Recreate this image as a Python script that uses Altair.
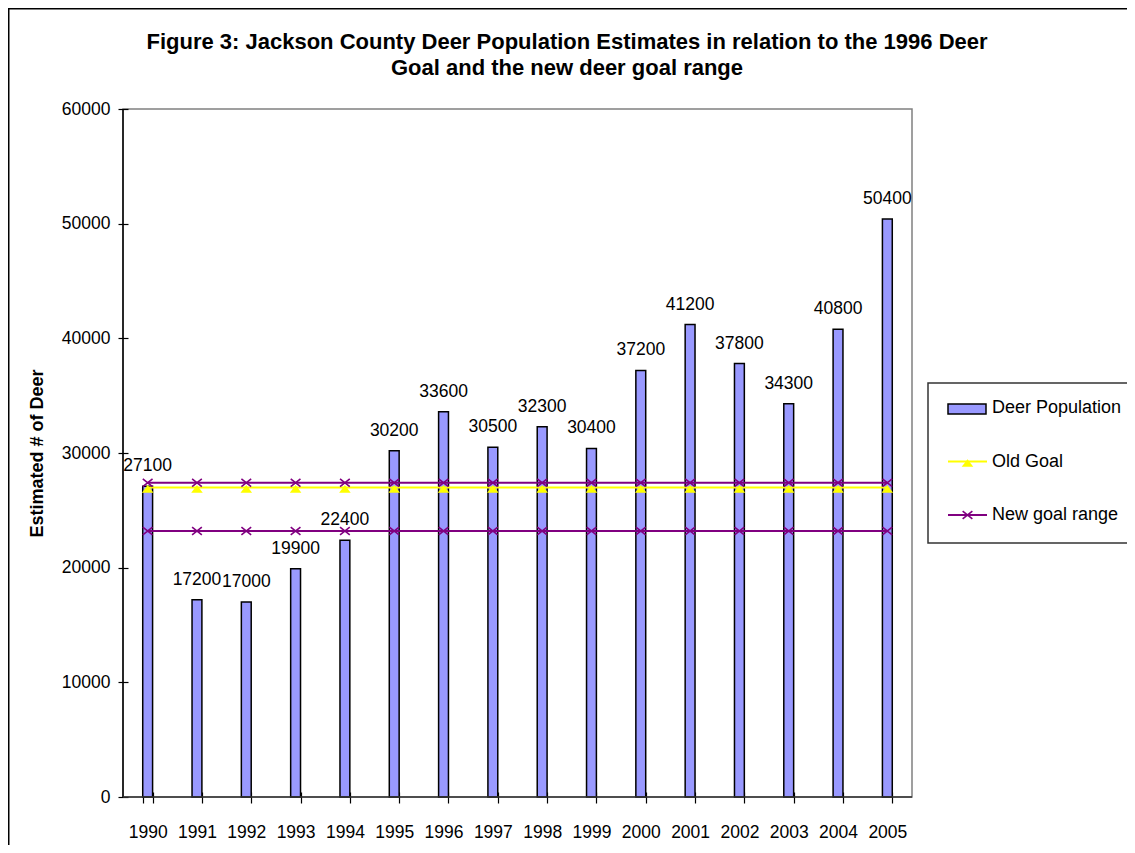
import altair as alt
import pandas as pd

years = ["1990", "1991", "1992", "1993", "1994", "1995", "1996", "1997",
         "1998", "1999", "2000", "2001", "2002", "2003", "2004", "2005"]
population = [27100, 17200, 17000, 19900, 22400, 30200, 33600, 30500,
              32300, 30400, 37200, 41200, 37800, 34300, 40800, 50400]
old_goal = [27000, 27000, 27000, 27000, 27000, 27000, 27000, 27000,
            27000, 27000, 27000, 27000, 27000, 27000, 27000, 27000]
new_goal_high = [27400, 27400, 27400, 27400, 27400, 27400, 27400, 27400,
                 27400, 27400, 27400, 27400, 27400, 27400, 27400, 27400]
new_goal_low = [23200, 23200, 23200, 23200, 23200, 23200, 23200, 23200,
                23200, 23200, 23200, 23200, 23200, 23200, 23200, 23200]
y_ticks = [0, 10000, 20000, 30000, 40000, 50000, 60000]
title_lines = ["Figure 3: Jackson County Deer Population Estimates in relation to the 1996 Deer",
               "Goal and the new deer goal range"]
legend_labels = ["Deer Population", "Old Goal", "New goal range"]
y_title = "Estimated # of Deer"

FONT = "Liberation Sans"
W, H = 789, 688
BAR = "#9999FF"
PURPLE = "#800080"
YELLOW = "#FFFF00"
TRI = "M-1,0.9L1,0.9L0,-0.4Z"
XSHAPE = "M-1,-0.8L1,0.8M-1,0.8L1,-0.8"

pop_df = pd.DataFrame({"year": years, "value": population})
old_df = pd.DataFrame({"year": years, "value": old_goal})
new_df = pd.DataFrame({
    "year": years + years,
    "value": new_goal_high + new_goal_low,
    "band": ["high"] * len(years) + ["low"] * len(years),
})

X = alt.X("year:O", sort=years,
          scale=alt.Scale(paddingInner=0.8, paddingOuter=0.4),
          axis=alt.Axis(title=None, labelAngle=0, offset=-5, tickSize=11,
                        tickBand="extent", domain=False, labelPadding=20,
                        labelFontSize=17.5, labelFont=FONT, labelColor="black",
                        tickColor="black", tickWidth=1.2))
Y = alt.Y("value:Q", scale=alt.Scale(domain=[0, 60000], nice=False),
          axis=alt.Axis(values=y_ticks, format="d", offset=-5, tickSize=10,
                        domain=False, grid=False, labelPadding=8,
                        labelFontSize=17.5, labelFont=FONT, labelColor="black",
                        tickColor="black", tickWidth=1.2,
                        title=y_title, titleFont=FONT, titleFontSize=18,
                        titleFontWeight="bold", titleColor="black",
                        titleX=-90.5, titleY=H / 2, titleAngle=270,
                        titleAlign="center", titleBaseline="middle"))

# outer chart frame
frame = alt.Chart(pd.DataFrame({"k": [0]})).mark_rect(
    fillOpacity=0, stroke="black", strokeWidth=1.5
).encode(x=alt.value(-114.25), x2=alt.value(1200),
         y=alt.value(-100.25), y2=alt.value(1000))

bars = alt.Chart(pop_df).mark_bar(fill=BAR, stroke="black", strokeWidth=1.5).encode(
    x=X, y=Y)

old_line = alt.Chart(old_df).mark_line(color=YELLOW, strokeWidth=2).encode(x=X, y=Y)
old_pts = alt.Chart(old_df).mark_point(shape=TRI, filled=True,
                                       color=YELLOW, size=135, opacity=1).encode(x=X, y=Y)
new_line = alt.Chart(new_df).mark_line(color=PURPLE, strokeWidth=2).encode(
    x=X, y=Y, detail="band:N")
new_pts = alt.Chart(new_df).mark_point(shape=XSHAPE, filled=False,
                                       color=PURPLE, size=95, strokeWidth=1.6,
                                       opacity=1).encode(x=X, y=Y)

labels = alt.Chart(pop_df).mark_text(font=FONT, fontSize=17.5, color="black",
                                     baseline="middle", dy=-20).encode(
    x=X, y=Y, text=alt.Text("value:Q", format="d"))

axis_left = alt.Chart(pd.DataFrame({"k": [0]})).mark_rule(color="black", strokeWidth=1.5).encode(
    x=alt.value(0), y=alt.value(0), y2=alt.value(H))
axis_bottom = alt.Chart(pd.DataFrame({"k": [0]})).mark_rule(color="#333333", strokeWidth=1.5).encode(
    x=alt.value(0), x2=alt.value(W), y=alt.value(H))

title_df = pd.DataFrame({"t": [title_lines[0]]})
title2_df = pd.DataFrame({"t": [title_lines[1]]})
title1 = alt.Chart(title_df).mark_text(font=FONT, fontSize=22, fontWeight="bold",
                                       color="black", align="center", baseline="middle").encode(
    text="t:N", x=alt.value(444), y=alt.value(-67))
title2 = alt.Chart(title2_df).mark_text(font=FONT, fontSize=22, fontWeight="bold",
                                        color="black", align="center", baseline="middle").encode(
    text="t:N", x=alt.value(444), y=alt.value(-41))

# legend
one = pd.DataFrame({"k": [0]})
leg_box = alt.Chart(one).mark_rect(fill="white", stroke="#333333", strokeWidth=1.5).encode(
    x=alt.value(805), x2=alt.value(1100), y=alt.value(274), y2=alt.value(434))
leg_bar = alt.Chart(one).mark_rect(fill=BAR, stroke="black", strokeWidth=1.5).encode(
    x=alt.value(825), x2=alt.value(863), y=alt.value(295), y2=alt.value(305))
leg_old_line = alt.Chart(one).mark_rule(color=YELLOW, strokeWidth=2).encode(
    x=alt.value(825), x2=alt.value(864), y=alt.value(352.5))
leg_old_pt = alt.Chart(one).mark_point(shape=TRI, filled=True, color=YELLOW,
                                       size=135, opacity=1).encode(
    x=alt.value(844.5), y=alt.value(352.5))
leg_new_line = alt.Chart(one).mark_rule(color=PURPLE, strokeWidth=2).encode(
    x=alt.value(825), x2=alt.value(864), y=alt.value(406))
leg_new_pt = alt.Chart(one).mark_point(shape=XSHAPE, filled=False,
                                       color=PURPLE, size=95, strokeWidth=1.6,
                                       opacity=1).encode(
    x=alt.value(844.5), y=alt.value(406))
leg_texts = []
for lab, yy in zip(legend_labels, [299, 352.5, 406]):
    leg_texts.append(
        alt.Chart(pd.DataFrame({"t": [lab]})).mark_text(
            font=FONT, fontSize=18, color="black", align="left", baseline="middle"
        ).encode(text="t:N", x=alt.value(869), y=alt.value(yy))
    )

chart = alt.layer(
    frame, bars, old_line, new_line, old_pts, new_pts, labels,
    axis_left, axis_bottom, title1, title2,
    leg_box, leg_bar, leg_old_line, leg_old_pt, leg_new_line, leg_new_pt, *leg_texts
).properties(
    width=W, height=H,
    autosize=alt.AutoSizeParams(type="none"),
    padding={"left": 115, "top": 101, "right": 215, "bottom": 48},
).configure_view(stroke="#808080", strokeWidth=1.5)

chart.save("out.html", embed_options={"renderer": "svg", "actions": False})
